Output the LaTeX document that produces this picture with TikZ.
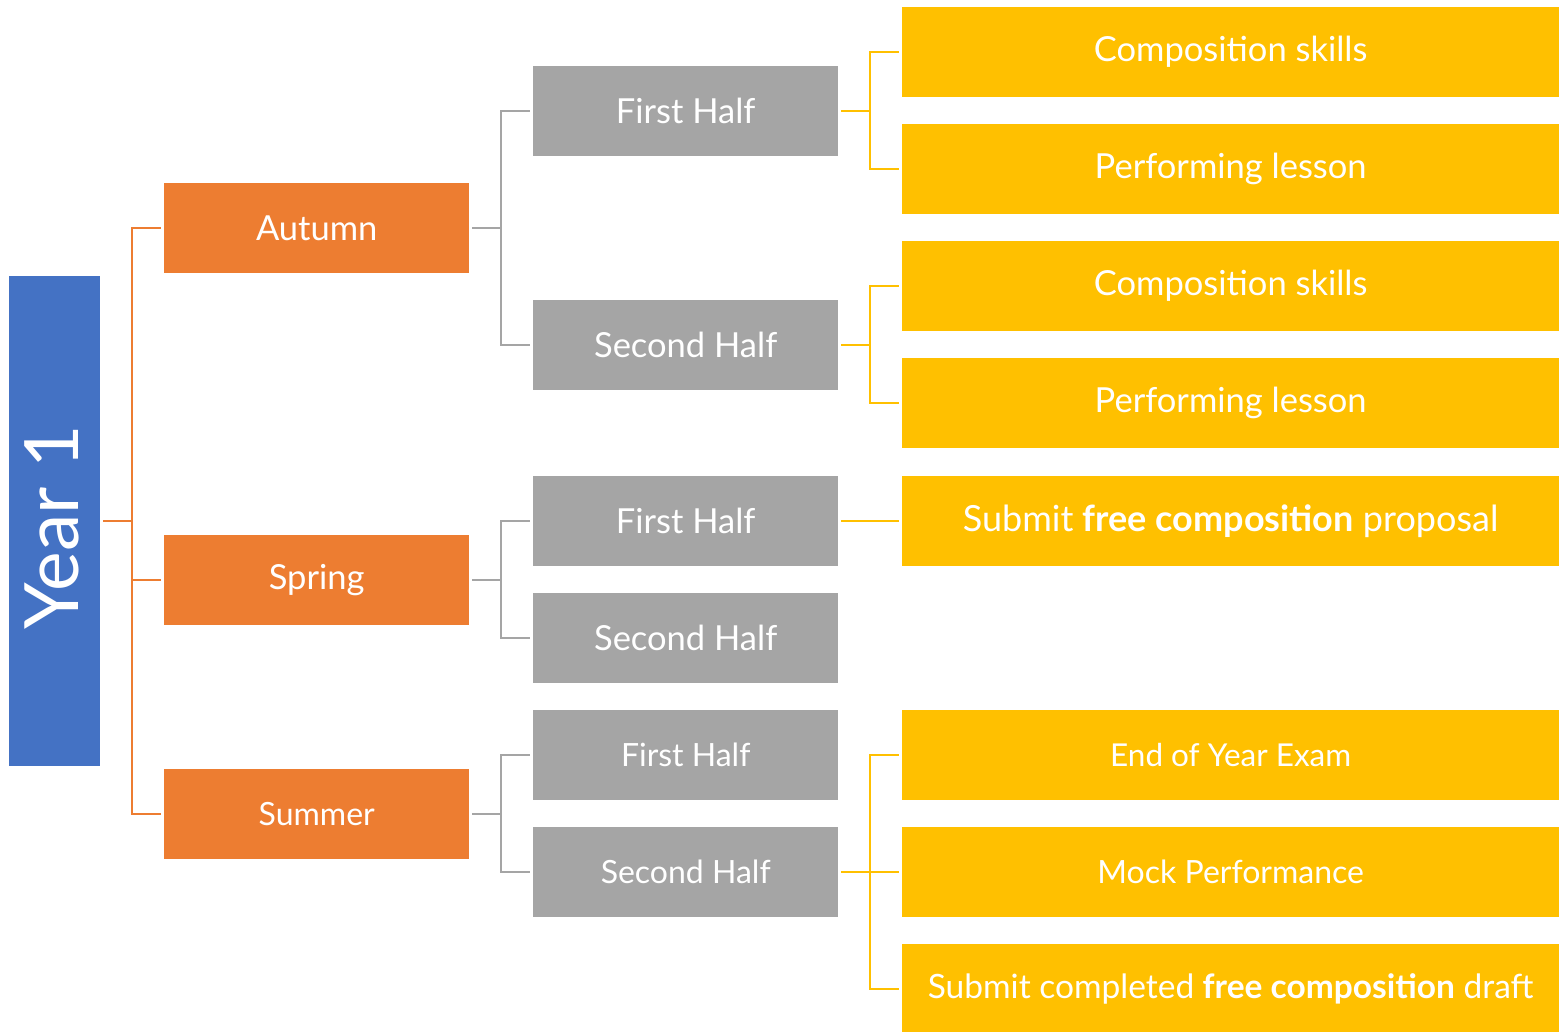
\documentclass[tikz,border=0pt]{standalone}
\usepackage{fontspec}
\setmainfont{Lato}
\definecolor{cblue}{HTML}{4472C4}
\definecolor{corange}{HTML}{ED7D31}
\definecolor{cgray}{HTML}{A5A5A5}
\definecolor{cyellow}{HTML}{FFC000}
\newcommand{\fs}[1]{\fontsize{#1}{#1}\selectfont}
\begin{document}
\begin{tikzpicture}[x=1pt,y=-1pt,
  box/.style={anchor=north west, inner sep=0pt, text=white, minimum height=90pt, font=\fs{34.5}},
  yearbox/.style={box, fill=cblue, minimum width=91pt, minimum height=490pt},
  seasonbox/.style={box, fill=corange, minimum width=305pt},
  halfbox/.style={box, fill=cgray, minimum width=305pt},
  taskbox/.style={box, fill=cyellow, minimum width=657pt},
  oline/.style={draw=corange, line width=2.5pt},
  gline/.style={draw=cgray, line width=2.5pt},
  yline/.style={draw=cyellow, line width=2.5pt}]
\useasboundingbox (0,0) rectangle (1559,1032);
% boxes
\node[yearbox] (year) at (9,276) {};
\node[white, rotate=90, font=\fs{75}] (yeartxt) at ([xshift=-3pt,yshift=-6pt]year.center) {Year 1};
\node[seasonbox] (aut) at (164,183) {Autumn};
\node[seasonbox] (spr) at (164,535) {Spring};
\node[seasonbox, font=\fs{32}] (sum) at (164,769) {Summer};
\node[halfbox] (a1) at (533,66) {First Half};
\node[halfbox] (a2) at (533,300) {Second Half};
\node[halfbox] (s1) at (533,476) {First Half};
\node[halfbox] (s2) at (533,593) {Second Half};
\node[halfbox, font=\fs{32}] (u1) at (533,710) {First Half};
\node[halfbox, font=\fs{32}] (u2) at (533,827) {Second Half};
\node[taskbox] (t1) at (902,7) {Composition skills};
\node[taskbox] (t2) at (902,124) {Performing lesson};
\node[taskbox] (t3) at (902,241) {Composition skills};
\node[taskbox] (t4) at (902,358) {Performing lesson};
\node[taskbox, font=\fs{36}] (t5) at (902,476) {Submit \textbf{free composition} proposal};
\node[taskbox, font=\fs{31.5}] (t6) at (902,710) {End of Year Exam};
\node[taskbox, font=\fs{32}] (t7) at (902,827) {Mock Performance};
\node[taskbox, font=\fs{33.5}] (t8) at (902,944) {Submit completed \textbf{free composition} draft};
% connectors
\foreach \s in {aut,spr,sum}
  \draw[oline] ([xshift=3pt]year.east) -| ([xshift=-32pt]\s.west) -- ([xshift=-3pt]\s.west);
\foreach \p/\c in {aut/a1,aut/a2,spr/s1,spr/s2,sum/u1,sum/u2}
  \draw[gline] ([xshift=3pt]\p.east) -| ([xshift=-32pt]\c.west) -- ([xshift=-3pt]\c.west);
\foreach \p/\c in {a1/t1,a1/t2,a2/t3,a2/t4,s1/t5,u2/t6,u2/t7,u2/t8}
  \draw[yline] ([xshift=3pt]\p.east) -| ([xshift=-32pt]\c.west) -- ([xshift=-3pt]\c.west);
\end{tikzpicture}
\end{document}
